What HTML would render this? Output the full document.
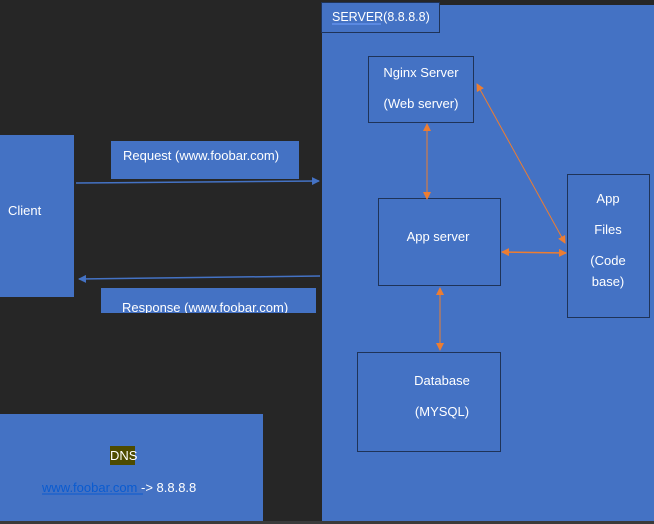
<!DOCTYPE html>
<html><head><meta charset="utf-8"><style>
html,body{margin:0;padding:0;background:#262626;width:654px;height:524px;overflow:hidden}
svg text{font-family:"Liberation Sans",sans-serif;font-size:13px;fill:#fff}
</style></head><body>
<svg width="654" height="524" viewBox="0 0 654 524" xmlns="http://www.w3.org/2000/svg">
<defs>
<marker id="bA" markerWidth="8" markerHeight="8" refX="7" refY="4" orient="auto" markerUnits="userSpaceOnUse"><path d="M0,0 L8,4 L0,8 z" fill="#4472c4"/></marker>
<marker id="oA" markerWidth="8" markerHeight="8" refX="7" refY="4" orient="auto-start-reverse" markerUnits="userSpaceOnUse"><path d="M0,0 L8,4 L0,8 z" fill="#ed7d31"/></marker>
</defs>
<rect x="0" y="0" width="654" height="524" fill="#262626"/>
<rect x="322" y="5" width="334" height="516" fill="#4472c4"/>
<rect x="321.5" y="2.5" width="118" height="30" fill="#4472c4" stroke="#1f3358" stroke-width="1"/>
<text x="332" y="21" style="font-size:12.5px">SERVER(8.8.8.8)</text>
<line x1="332" y1="24" x2="381" y2="24" stroke="#6fa0ff" stroke-width="1"/>
<rect x="368.5" y="56.5" width="105" height="66" fill="none" stroke="#1f3358"/>
<text x="421" y="77" text-anchor="middle">Nginx Server</text>
<text x="421" y="108" text-anchor="middle">(Web server)</text>
<rect x="378.5" y="198.5" width="122" height="87" fill="none" stroke="#1f3358"/>
<text x="438" y="241" text-anchor="middle">App server</text>
<rect x="567.5" y="174.5" width="82" height="143" fill="none" stroke="#1f3358"/>
<text x="608" y="203" text-anchor="middle">App</text>
<text x="608" y="234" text-anchor="middle">Files</text>
<text x="608" y="265" text-anchor="middle">(Code</text>
<text x="608" y="286" text-anchor="middle">base)</text>
<rect x="357.5" y="352.5" width="143" height="99" fill="none" stroke="#1f3358"/>
<text x="442" y="385" text-anchor="middle">Database</text>
<text x="442" y="416" text-anchor="middle">(MYSQL)</text>
<line x1="427" y1="124" x2="427" y2="199" stroke="#ed7d31" stroke-width="1" marker-start="url(#oA)" marker-end="url(#oA)"/>
<line x1="477" y1="84" x2="565" y2="243" stroke="#ed7d31" stroke-width="1" marker-start="url(#oA)" marker-end="url(#oA)"/>
<line x1="502" y1="252" x2="566" y2="253" stroke="#ed7d31" stroke-width="1.5" marker-start="url(#oA)" marker-end="url(#oA)"/>
<line x1="440" y1="288" x2="440" y2="350" stroke="#ed7d31" stroke-width="1" marker-start="url(#oA)" marker-end="url(#oA)"/>
<rect x="0" y="135" width="74" height="162" fill="#4472c4"/>
<text x="8" y="215">Client</text>
<rect x="111" y="141" width="188" height="38" fill="#4472c4"/>
<text x="123" y="160">Request (www.foobar.com)</text>
<line x1="76" y1="183" x2="319" y2="181" stroke="#4472c4" stroke-width="1.5" marker-end="url(#bA)"/>
<line x1="320" y1="276" x2="79" y2="279" stroke="#4472c4" stroke-width="1.5" marker-end="url(#bA)"/>
<svg x="101" y="288" width="215" height="25" overflow="hidden">
<rect x="0" y="0" width="215" height="25" fill="#4472c4"/>
<text x="21" y="24">Response (www.foobar.com)</text>
</svg>
<rect x="0" y="414" width="263" height="107" fill="#4472c4"/>
<rect x="110" y="446" width="25" height="19" fill="#4d4b00"/>
<text x="110" y="460">DNS</text>
<text x="42" y="492"><tspan fill="#0a5bd0">www.foobar.com</tspan> -&gt; 8.8.8.8</text>
<line x1="42" y1="494" x2="143" y2="494" stroke="#0a5bd0" stroke-width="1"/>
<rect x="0" y="521" width="654" height="3" fill="#3a3a3a"/>
</svg>
</body></html>
